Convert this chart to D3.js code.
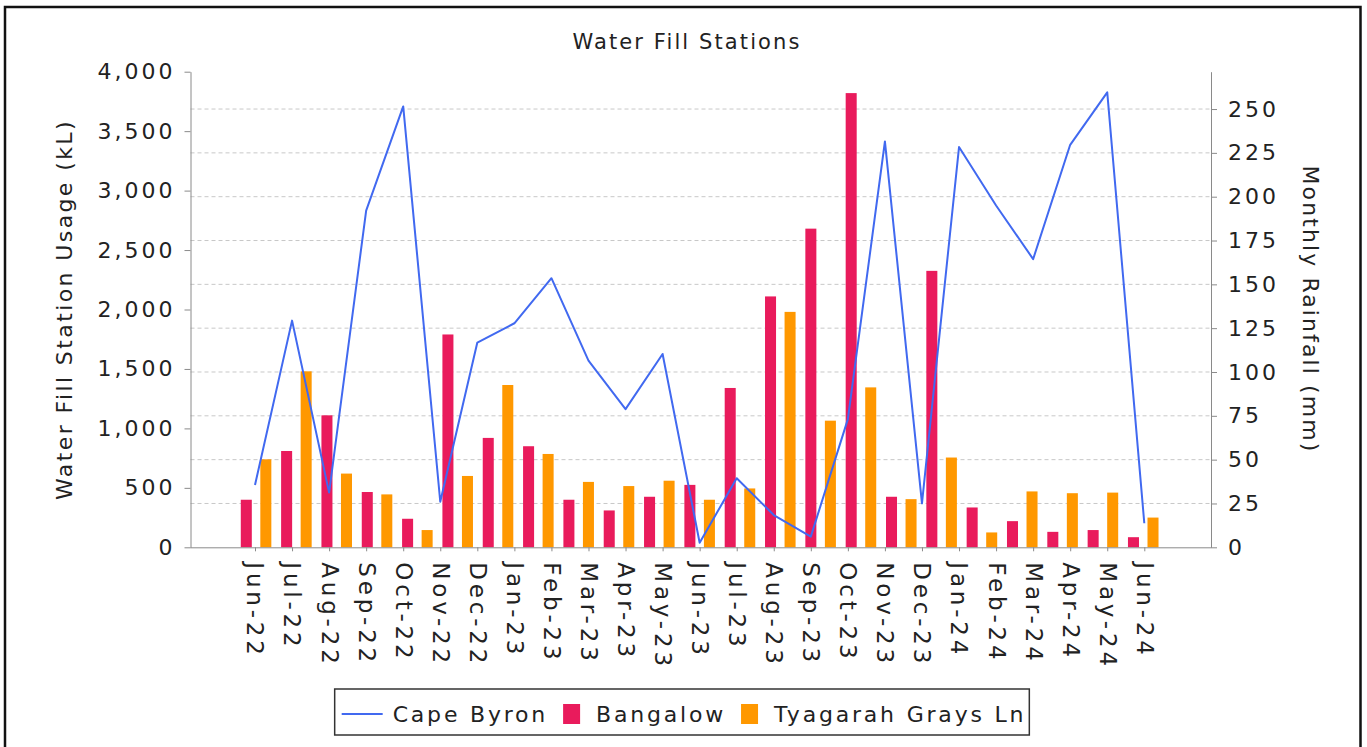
<!DOCTYPE html>
<html>
<head>
<meta charset="utf-8">
<script src="https://cdn.jsdelivr.net/npm/d3@7"></script>
<style>
  body { margin: 0; background: #fff; }
  text { font-family: "DejaVu Sans", sans-serif; fill: #222; }
  .axis path, .axis line { stroke: #8a8a8a; }
  .grid line { stroke: #c8c8c8; stroke-dasharray: 4,3; }
</style>
</head>
<body>
<div id="chart"></div>
<script>
// month labels on the x axis (line series)
var months = ["Jun-22","Jul-22","Aug-22","Sep-22","Oct-22","Nov-22","Dec-22","Jan-23","Feb-23",
  "Mar-23","Apr-23","May-23","Jun-23","Jul-23","Aug-23","Sep-23","Oct-23","Nov-23","Dec-23",
  "Jan-24","Feb-24","Mar-24","Apr-24","May-24","Jun-24"];

// line series, read against the right axis
var capeByron = [35.5, 129.3, 31.2, 192.1, 251.5, 26, 116.8, 127.8, 153.5, 106.5, 78.8, 110.3,
  2.6, 39.4, 18.4, 6.1, 73.1, 231.5, 25.1, 228.3, 195, 164.4, 229.6, 259.5, 13.7];

// bar series (kL), 23 bars each
var bangalow = [400, 810, 1110, 465, 240, 1790, 920, 850, 400, 310, 425, 525, 1340, 2110,
  2680, 3820, 425, 2325, 335, 220, 130, 145, 85];
var tyagarah = [740, 1480, 620, 445, 145, 600, 1365, 785, 550, 515, 560, 400, 495, 1980,
  1065, 1345, 405, 755, 125, 470, 455, 460, 250];

var seriesNames = ["Cape Byron", "Bangalow", "Tyagarah Grays Ln"];
var leftTicks = [0, 500, 1000, 1500, 2000, 2500, 3000, 3500, 4000];
var rightTicks = [0, 25, 50, 75, 100, 125, 150, 175, 200, 225, 250];

var colors = {"Cape Byron": "#4169f0", "Bangalow": "#e91b5c", "Tyagarah Grays Ln": "#ff9800"};

var W = 1367, H = 747;
var margin = {top: 71.7, right: 156, bottom: 199.7, left: 190.5},
    width = W - margin.left - margin.right,
    height = H - margin.top - margin.bottom;

var svg = d3.select("#chart").append("svg")
    .attr("width", W)
    .attr("height", H);

// outer frame
svg.append("rect")
    .attr("x", 5).attr("y", 7)
    .attr("width", 1355.5).attr("height", 780)
    .attr("fill", "none")
    .attr("stroke", "#111")
    .attr("stroke-width", 2.5);

// title
svg.append("text")
    .attr("x", 687).attr("y", 49)
    .attr("text-anchor", "middle")
    .style("font-size", "21px")
    .style("letter-spacing", "2.1px")
    .text("Water Fill Stations");

var g = svg.append("g")
    .attr("transform", "translate(" + margin.left + "," + margin.top + ")");

var yLeft = d3.scaleLinear().domain([0, 4000]).range([height, 0]);
var yRight = d3.scaleLinear().domain([0, 271.3]).range([height, 0]);

// the line uses the month points, the bars sit on their own band scale
var xLine = d3.scalePoint().domain(months).range([64.5, 953.8]);
var xBar = d3.scaleBand().domain(d3.range(bangalow.length)).range([45.4, 972.9]);
var xSub = d3.scaleBand().domain(["Bangalow", "Tyagarah Grays Ln"])
    .range([0, xBar.bandwidth()])
    .paddingInner(0.436)
    .paddingOuter(0.25);

// dashed grid from the right axis
g.append("g")
    .attr("class", "grid")
    .selectAll("line")
    .data(rightTicks.filter(function(d) { return d > 0; }))
    .enter().append("line")
    .attr("x1", 0).attr("x2", width)
    .attr("y1", function(d) { return yRight(d); })
    .attr("y2", function(d) { return yRight(d); });

// bars
var barData = [];
bangalow.forEach(function(v, i) {
  barData.push({i: i, key: "Bangalow", value: v});
  barData.push({i: i, key: "Tyagarah Grays Ln", value: tyagarah[i]});
});

g.append("g").selectAll("rect")
    .data(barData)
    .enter().append("rect")
    .attr("x", function(d) { return xBar(d.i) + xSub(d.key); })
    .attr("width", xSub.bandwidth())
    .attr("y", function(d) { return yLeft(d.value); })
    .attr("height", function(d) { return height - yLeft(d.value); })
    .attr("fill", function(d) { return colors[d.key]; });

// axes
var leftAxis = g.append("g")
    .attr("class", "axis")
    .call(d3.axisLeft(yLeft).tickValues(leftTicks).tickFormat(d3.format(","))
      .tickSize(6).tickSizeOuter(0).tickPadding(9));

var rightAxis = g.append("g")
    .attr("class", "axis")
    .attr("transform", "translate(" + width + ",0)")
    .call(d3.axisRight(yRight).tickValues(rightTicks)
      .tickSize(6).tickSizeOuter(0).tickPadding(11));

[leftAxis, rightAxis].forEach(function(a) {
  a.selectAll("text")
    .style("font-size", "22px")
    .style("letter-spacing", "3px")
    .attr("fill", "#222");
  a.select(".domain").attr("stroke", "#8a8a8a");
});

var bottomAxis = g.append("g")
    .attr("class", "axis")
    .attr("transform", "translate(0," + height + ")")
    .call(d3.axisBottom(xLine).tickSize(4).tickSizeOuter(0));

bottomAxis.select(".domain").attr("d", "M0,0.5H" + width);

bottomAxis.selectAll("text")
    .attr("transform", "rotate(90)")
    .attr("x", 15)
    .attr("y", 0)
    .attr("dy", "0.35em")
    .style("text-anchor", "start")
    .style("font-size", "23px")
    .style("letter-spacing", "3.8px")
    .attr("fill", "#222");

// the line
var valueLine = d3.line()
    .x(function(d, i) { return xLine(months[i]); })
    .y(function(d) { return yRight(d); });

g.append("path")
    .datum(capeByron)
    .attr("fill", "none")
    .attr("stroke", colors["Cape Byron"])
    .attr("stroke-width", 2)
    .attr("stroke-linejoin", "round")
    .attr("d", valueLine);

// axis titles
svg.append("text")
    .attr("transform", "translate(72," + (margin.top + height / 2) + ") rotate(-90)")
    .attr("text-anchor", "middle")
    .style("font-size", "22px")
    .style("letter-spacing", "2.4px")
    .text("Water Fill Station Usage (kL)");

svg.append("text")
    .attr("transform", "translate(1303," + (margin.top + height / 2) + ") rotate(90)")
    .attr("text-anchor", "middle")
    .style("font-size", "22px")
    .style("letter-spacing", "2.1px")
    .text("Monthly Rainfall (mm)");

// legend
var legend = svg.append("g");
var legendBox = legend.append("rect")
    .attr("fill", "#fff")
    .attr("stroke", "#333")
    .attr("stroke-width", 1.5);

var lx = 0;
var items = legend.selectAll("g.item")
    .data(seriesNames)
    .enter().append("g")
    .attr("class", "item");

items.each(function(name, i) {
  var it = d3.select(this);
  var swW;
  if (i === 0) {
    it.append("line")
      .attr("x1", lx).attr("x2", lx + 41)
      .attr("y1", 0).attr("y2", 0)
      .attr("stroke", colors[name])
      .attr("stroke-width", 2);
    swW = 41;
  } else {
    it.append("rect")
      .attr("x", lx).attr("y", -10)
      .attr("width", 17).attr("height", 20)
      .attr("fill", colors[name]);
    swW = 17;
  }
  var t = it.append("text")
    .attr("x", lx + swW + (i === 0 ? 10 : 16))
    .attr("y", 8)
    .style("font-size", "22px")
    .style("letter-spacing", "2.8px")
    .text(name);
  lx = lx + swW + (i === 0 ? 10 : 16) + t.node().getComputedTextLength() + 15;
});

var contentW = lx - 15;
var legendX = 684 - contentW / 2;
legend.attr("transform", "translate(" + legendX + ",714)");
legendBox
    .attr("x", -7).attr("y", -25)
    .attr("width", contentW + 10)
    .attr("height", 46);
</script>
</body>
</html>
